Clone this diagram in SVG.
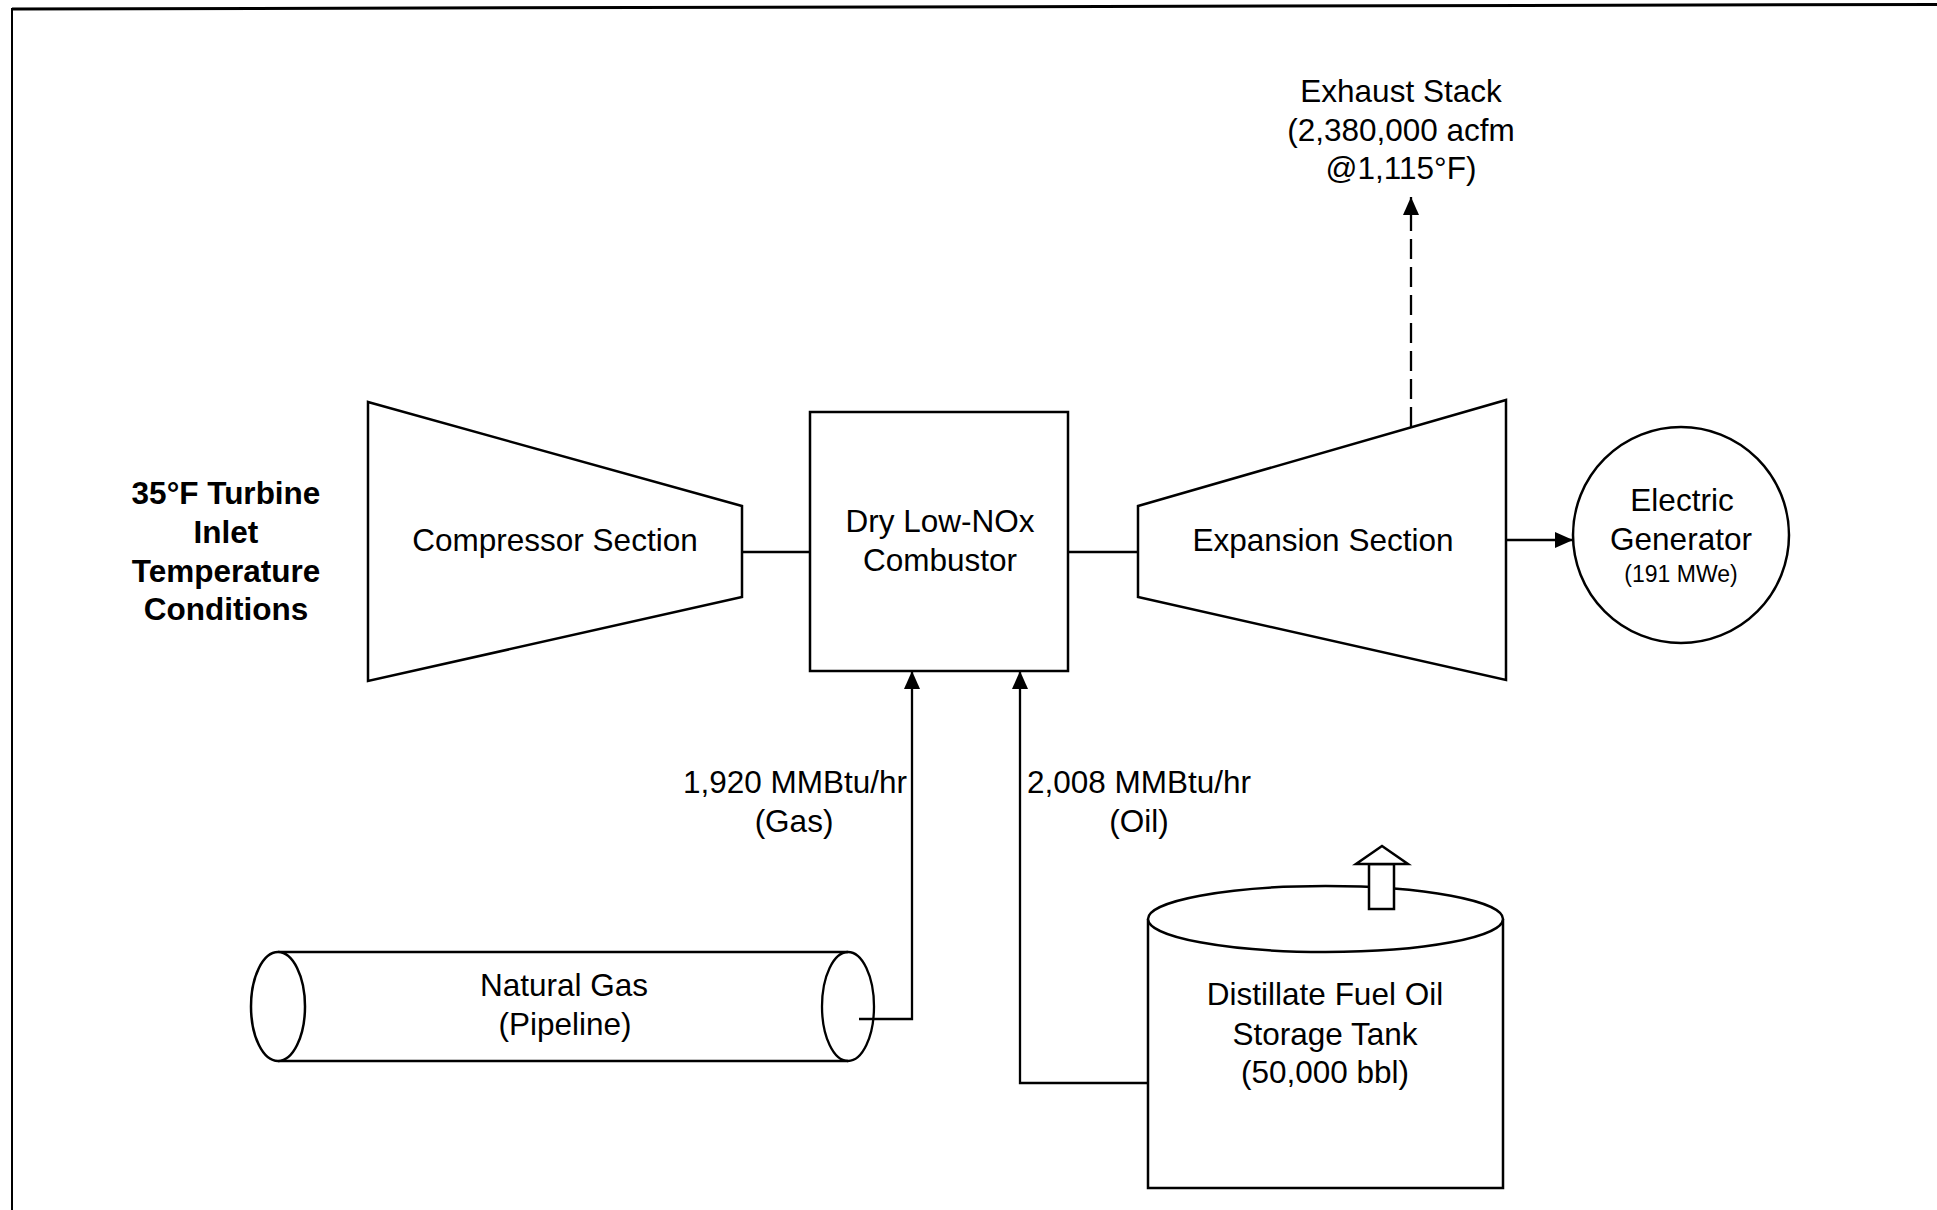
<svg xmlns="http://www.w3.org/2000/svg" width="1937" height="1210" viewBox="0 0 1937 1210">
<style>
  .shape{fill:#fff;stroke:#000;stroke-width:2.5}
  .ln{fill:none;stroke:#000;stroke-width:2.3}
  .t{font-family:"Liberation Sans",Arial,sans-serif;font-size:31.5px;text-anchor:middle;fill:#000}
  .b{font-weight:bold}
  .s{font-size:23px}
</style>
<defs>
  <marker id="arr" markerUnits="userSpaceOnUse" markerWidth="18" markerHeight="16" refX="18" refY="8" orient="auto">
    <path d="M0,0 L18,8 L0,16 z" fill="#000"/>
  </marker>
</defs>
<rect x="0" y="0" width="1937" height="1210" fill="#fff"/>
<g id="frame">
  <line x1="12" y1="9" x2="1937" y2="4.5" stroke="#000" stroke-width="3"/>
  <line x1="12" y1="8" x2="12" y2="1210" stroke="#000" stroke-width="2"/>
</g>
<g id="connectors">
  <line class="ln" x1="742" y1="552" x2="810" y2="552"/>
  <line class="ln" x1="1068" y1="552" x2="1138" y2="552"/>
  <line class="ln" x1="1506" y1="540" x2="1573" y2="540" marker-end="url(#arr)"/>
  <line class="ln" x1="1411" y1="427" x2="1411" y2="197" stroke-dasharray="20 8" marker-end="url(#arr)"/>
  <polyline class="ln" points="859,1019 912,1019 912,671" marker-end="url(#arr)"/>
  <polyline class="ln" points="1148,1083 1020,1083 1020,671" marker-end="url(#arr)"/>
</g>
<g id="inlet">
  <text class="t b" x="226" y="504">35°F Turbine</text>
  <text class="t b" x="226" y="543">Inlet</text>
  <text class="t b" x="226" y="582">Temperature</text>
  <text class="t b" x="226" y="620">Conditions</text>
</g>
<g id="compressor">
  <polygon class="shape" points="368,402 742,506 742,597 368,681"/>
  <text class="t" x="555" y="551">Compressor Section</text>
</g>
<g id="combustor">
  <rect class="shape" x="810" y="412" width="258" height="259"/>
  <text class="t" x="940" y="532">Dry Low-NOx</text>
  <text class="t" x="940" y="571">Combustor</text>
</g>
<g id="expansion">
  <polygon class="shape" points="1138,506 1506,400 1506,680 1138,597"/>
  <text class="t" x="1323" y="551">Expansion Section</text>
</g>
<g id="generator">
  <ellipse class="shape" cx="1681" cy="535" rx="108" ry="108"/>
  <text class="t" x="1682" y="511">Electric</text>
  <text class="t" x="1681" y="550">Generator</text>
  <text class="t s" x="1681" y="582">(191 MWe)</text>
</g>
<g id="exhaust">
  <text class="t" x="1401" y="102">Exhaust Stack</text>
  <text class="t" x="1401" y="141">(2,380,000 acfm</text>
  <text class="t" x="1401" y="179">@1,115°F)</text>
</g>
<g id="gas-label">
  <text class="t" x="795" y="793">1,920 MMBtu/hr</text>
  <text class="t" x="794" y="832">(Gas)</text>
</g>
<g id="oil-label">
  <text class="t" x="1139" y="793">2,008 MMBtu/hr</text>
  <text class="t" x="1139" y="832">(Oil)</text>
</g>
<g id="pipeline">
  <rect x="278" y="952" width="570" height="109" fill="#fff"/>
  <line class="ln" x1="278" y1="952" x2="848" y2="952"/>
  <line class="ln" x1="278" y1="1061" x2="848" y2="1061"/>
  <ellipse class="shape" cx="278" cy="1006.5" rx="27" ry="54.5"/>
  <ellipse class="ln" cx="848" cy="1006.5" rx="26" ry="54.5"/>
  <text class="t" x="564" y="996">Natural Gas</text>
  <text class="t" x="565" y="1035">(Pipeline)</text>
</g>
<g id="tank">
  <path class="shape" d="M1148,919 L1148,1188 L1503,1188 L1503,919"/>
  <ellipse class="shape" cx="1325.5" cy="919" rx="177.5" ry="33"/>
  <rect class="shape" x="1369" y="864" width="25" height="45"/>
  <polygon class="shape" points="1356,864 1408,864 1382,846"/>
  <text class="t" x="1325" y="1005">Distillate Fuel Oil</text>
  <text class="t" x="1325" y="1045">Storage Tank</text>
  <text class="t" x="1325" y="1083">(50,000 bbl)</text>
</g>
</svg>
